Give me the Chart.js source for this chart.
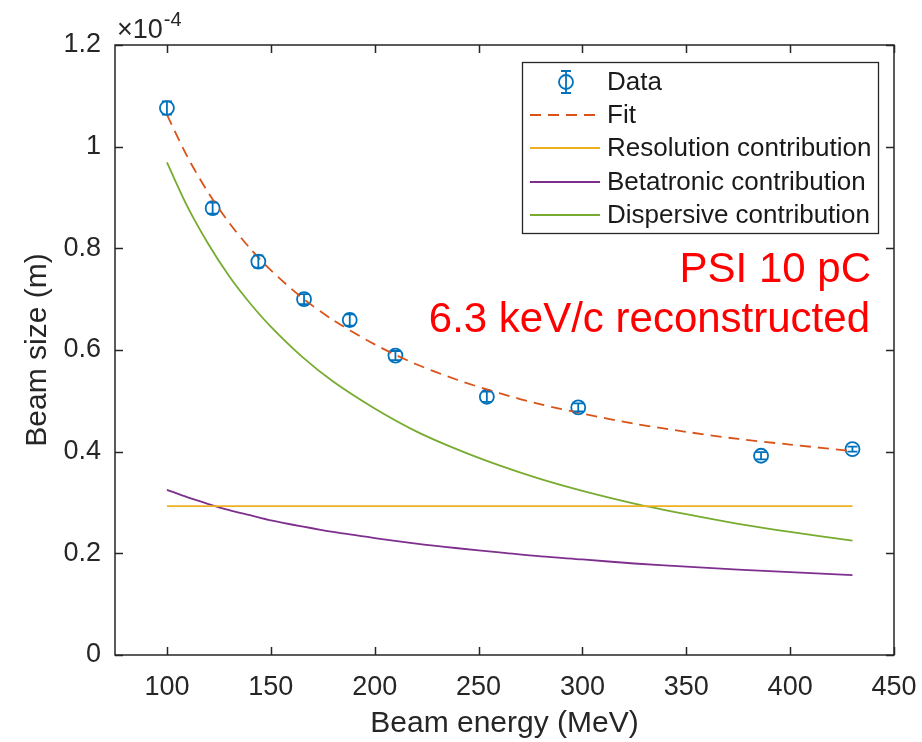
<!DOCTYPE html>
<html><head><meta charset="utf-8">
<script src="https://cdn.jsdelivr.net/npm/chart.js@4.4.1/dist/chart.umd.min.js"></script>
<style>html,body{margin:0;padding:0;background:#fff;overflow:hidden}</style>
</head><body>
<canvas id="c" width="922" height="742" style="width:922px;height:742px;display:block"></canvas>
<script>
// ---- data ----
const dataEnergy = [100, 122, 144, 166, 188, 210, 254, 298, 386, 430];
const dataSize   = [1.076, 0.879, 0.774, 0.700, 0.659, 0.589, 0.508, 0.487, 0.392, 0.405];
const dataErr    = [0.013, 0.011, 0.012, 0.010, 0.011, 0.009, 0.010, 0.008, 0.007, 0.005];

const curveEnergy = [100, 110, 120, 130, 140, 150, 165, 180, 200, 220, 240, 260, 280, 300, 325, 350, 375, 400, 430];
const fitSize     = [1.063, 0.979, 0.909, 0.850, 0.800, 0.757, 0.703, 0.659, 0.611, 0.572, 0.541, 0.515, 0.493, 0.475, 0.455, 0.439, 0.425, 0.414, 0.401];
const resolSize   = [0.293, 0.293, 0.293, 0.293, 0.293, 0.293, 0.293, 0.293, 0.293, 0.293, 0.293, 0.293, 0.293, 0.293, 0.293, 0.293, 0.293, 0.293, 0.293];
const betaSize    = [0.325, 0.310, 0.297, 0.285, 0.275, 0.265, 0.253, 0.242, 0.230, 0.219, 0.210, 0.202, 0.194, 0.188, 0.180, 0.174, 0.168, 0.163, 0.157];
const dispSize    = [0.969, 0.881, 0.808, 0.745, 0.692, 0.646, 0.587, 0.538, 0.485, 0.440, 0.404, 0.373, 0.346, 0.323, 0.298, 0.277, 0.258, 0.242, 0.225];

const xTicks = [100, 150, 200, 250, 300, 350, 400, 450];
const xTickLabels = ['100', '150', '200', '250', '300', '350', '400', '450'];
const yTicks = [0, 0.2, 0.4, 0.6, 0.8, 1.0, 1.2];
const yTickLabels = ['0', '0.2', '0.4', '0.6', '0.8', '1', '1.2'];

const legendLabels = ['Data', 'Fit', 'Resolution contribution', 'Betatronic contribution', 'Dispersive contribution'];
const annotLines = ['PSI 10 pC', '6.3 keV/c reconstructed'];

// ---- styles ----
const FONT = '"Liberation Sans", Arial, Helvetica, sans-serif';
const AX = '#262626';
const C_DATA = '#0072BD', C_FIT = '#D95319', C_RES = '#EDB120', C_BETA = '#7E2F8E', C_DISP = '#77AC30';

const pts = (xs, ys) => xs.map((x, i) => ({x: x, y: ys[i]}));

function drawErrMarker(ctx, x, yc, yLo, yHi, cap, r) {
  ctx.save();
  ctx.strokeStyle = C_DATA; ctx.lineWidth = 1.8;
  ctx.beginPath();
  ctx.moveTo(x, yLo); ctx.lineTo(x, yHi);
  ctx.moveTo(x - cap, yLo); ctx.lineTo(x + cap, yLo);
  ctx.moveTo(x - cap, yHi); ctx.lineTo(x + cap, yHi);
  ctx.stroke();
  if (r) { ctx.beginPath(); ctx.arc(x, yc, r, 0, Math.PI * 2); ctx.stroke(); }
  ctx.restore();
}

const decor = {
  id: 'decor',
  afterDatasetsDraw(chart) {
    const ctx = chart.ctx, xs = chart.scales.x, ys = chart.scales.y, a = chart.chartArea;
    // error bars
    dataEnergy.forEach((e, i) => {
      const px = xs.getPixelForValue(e);
      drawErrMarker(ctx, px, ys.getPixelForValue(dataSize[i]),
        ys.getPixelForValue(dataSize[i] - dataErr[i]), ys.getPixelForValue(dataSize[i] + dataErr[i]), 5, 0);
    });
    // axes box + inner ticks
    ctx.save();
    ctx.strokeStyle = AX; ctx.lineWidth = 1.5;
    ctx.strokeRect(a.left, a.top, a.right - a.left, a.bottom - a.top);
    ctx.beginPath();
    const tl = 8;
    xTicks.forEach(v => {
      const px = Math.round(xs.getPixelForValue(v)) + 0.5;
      ctx.moveTo(px, a.bottom); ctx.lineTo(px, a.bottom - tl);
      ctx.moveTo(px, a.top); ctx.lineTo(px, a.top + tl);
    });
    yTicks.forEach(v => {
      const py = Math.round(ys.getPixelForValue(v)) + 0.5;
      ctx.moveTo(a.left, py); ctx.lineTo(a.left + tl, py);
      ctx.moveTo(a.right, py); ctx.lineTo(a.right - tl, py);
    });
    ctx.stroke();
    // exponent
    ctx.fillStyle = AX; ctx.textBaseline = 'alphabetic'; ctx.textAlign = 'left';
    ctx.font = '27px ' + FONT;
    ctx.fillText('\u00d710', 117, 38);
    const w = ctx.measureText('\u00d710').width;
    ctx.font = '20px ' + FONT;
    ctx.fillText('-4', 117 + w + 1, 26);
    // annotation
    ctx.fillStyle = '#FF0000'; ctx.textAlign = 'right';
    ctx.font = '42px ' + FONT;
    ctx.fillText(annotLines[0], 871, 282);
    ctx.fillText(annotLines[1], 870, 332);
    // legend
    const L = 522, T = 62, R = 878, B = 233;
    ctx.fillStyle = '#ffffff'; ctx.fillRect(L, T, R - L, B - T);
    ctx.strokeStyle = AX; ctx.lineWidth = 1.3;
    ctx.strokeRect(L + 0.5, T + 0.5, R - L, B - T);
    const rows = [82, 115, 148, 182, 215];
    ctx.font = '26px ' + FONT; ctx.fillStyle = '#1a1a1a'; ctx.textAlign = 'left'; ctx.textBaseline = 'middle';
    legendLabels.forEach((t, i) => ctx.fillText(t, 607, rows[i] + 1));
    drawErrMarker(ctx, 566, rows[0], rows[0] + 11, rows[0] - 11, 5, 7);
    const lineCols = [C_FIT, C_RES, C_BETA, C_DISP];
    lineCols.forEach((c, i) => {
      ctx.save();
      ctx.strokeStyle = c; ctx.lineWidth = 1.8;
      if (i === 0) ctx.setLineDash([11, 7]);
      ctx.beginPath(); ctx.moveTo(530, rows[i + 1]); ctx.lineTo(600, rows[i + 1]); ctx.stroke();
      ctx.restore();
    });
    ctx.restore();
  }
};

new Chart(document.getElementById('c'), {
  type: 'scatter',
  data: {
    datasets: [
      {label: 'Resolution contribution', data: pts(curveEnergy, resolSize), showLine: true, borderColor: C_RES, borderWidth: 1.8, pointRadius: 0, tension: 0.3},
      {label: 'Betatronic contribution', data: pts(curveEnergy, betaSize), showLine: true, borderColor: C_BETA, borderWidth: 1.8, pointRadius: 0, tension: 0.3},
      {label: 'Dispersive contribution', data: pts(curveEnergy, dispSize), showLine: true, borderColor: C_DISP, borderWidth: 1.8, pointRadius: 0, tension: 0.3},
      {label: 'Fit', data: pts(curveEnergy, fitSize), showLine: true, borderColor: C_FIT, borderWidth: 1.8, borderDash: [11, 7], pointRadius: 0, tension: 0.3},
      {label: 'Data', data: pts(dataEnergy, dataSize), showLine: false, pointStyle: 'circle', pointRadius: 7, pointBorderWidth: 1.8, borderColor: C_DATA, backgroundColor: 'rgba(0,0,0,0)', pointBackgroundColor: 'rgba(0,0,0,0)'}
    ]
  },
  options: {
    responsive: false, animation: false, devicePixelRatio: 1,
    layout: {padding: {left: 0, right: 28, top: 45, bottom: 0}},
    plugins: {legend: {display: false}, tooltip: {enabled: false}, title: {display: false}},
    scales: {
      x: {
        type: 'linear', min: 75, max: 450,
        afterBuildTicks: s => { s.ticks = xTicks.map(v => ({value: v})); },
        afterFit: s => { s.height = 87; s.paddingLeft = 0; s.paddingRight = 0; },
        grid: {display: false, drawTicks: false}, border: {display: false},
        ticks: {font: {family: FONT, size: 27}, color: AX, padding: 16, maxRotation: 0, autoSkip: false,
                callback: (v, i) => xTickLabels[i]},
        title: {display: true, text: 'Beam energy (MeV)', font: {family: FONT, size: 30}, color: AX, padding: {top: 0, bottom: 0}}
      },
      y: {
        type: 'linear', min: 0, max: 1.2,
        afterBuildTicks: s => { s.ticks = yTicks.map(v => ({value: v})); },
        afterFit: s => { s.width = 115; s.paddingTop = 0; s.paddingBottom = 0; },
        grid: {display: false, drawTicks: false}, border: {display: false},
        ticks: {font: {family: FONT, size: 27}, color: AX, padding: 14, autoSkip: false,
                callback: (v, i) => yTickLabels[i]},
        title: {display: true, text: 'Beam size (m)', font: {family: FONT, size: 30}, color: AX, padding: {top: 20, bottom: 0}}
      }
    }
  },
  plugins: [decor]
});
</script>
</body></html>
